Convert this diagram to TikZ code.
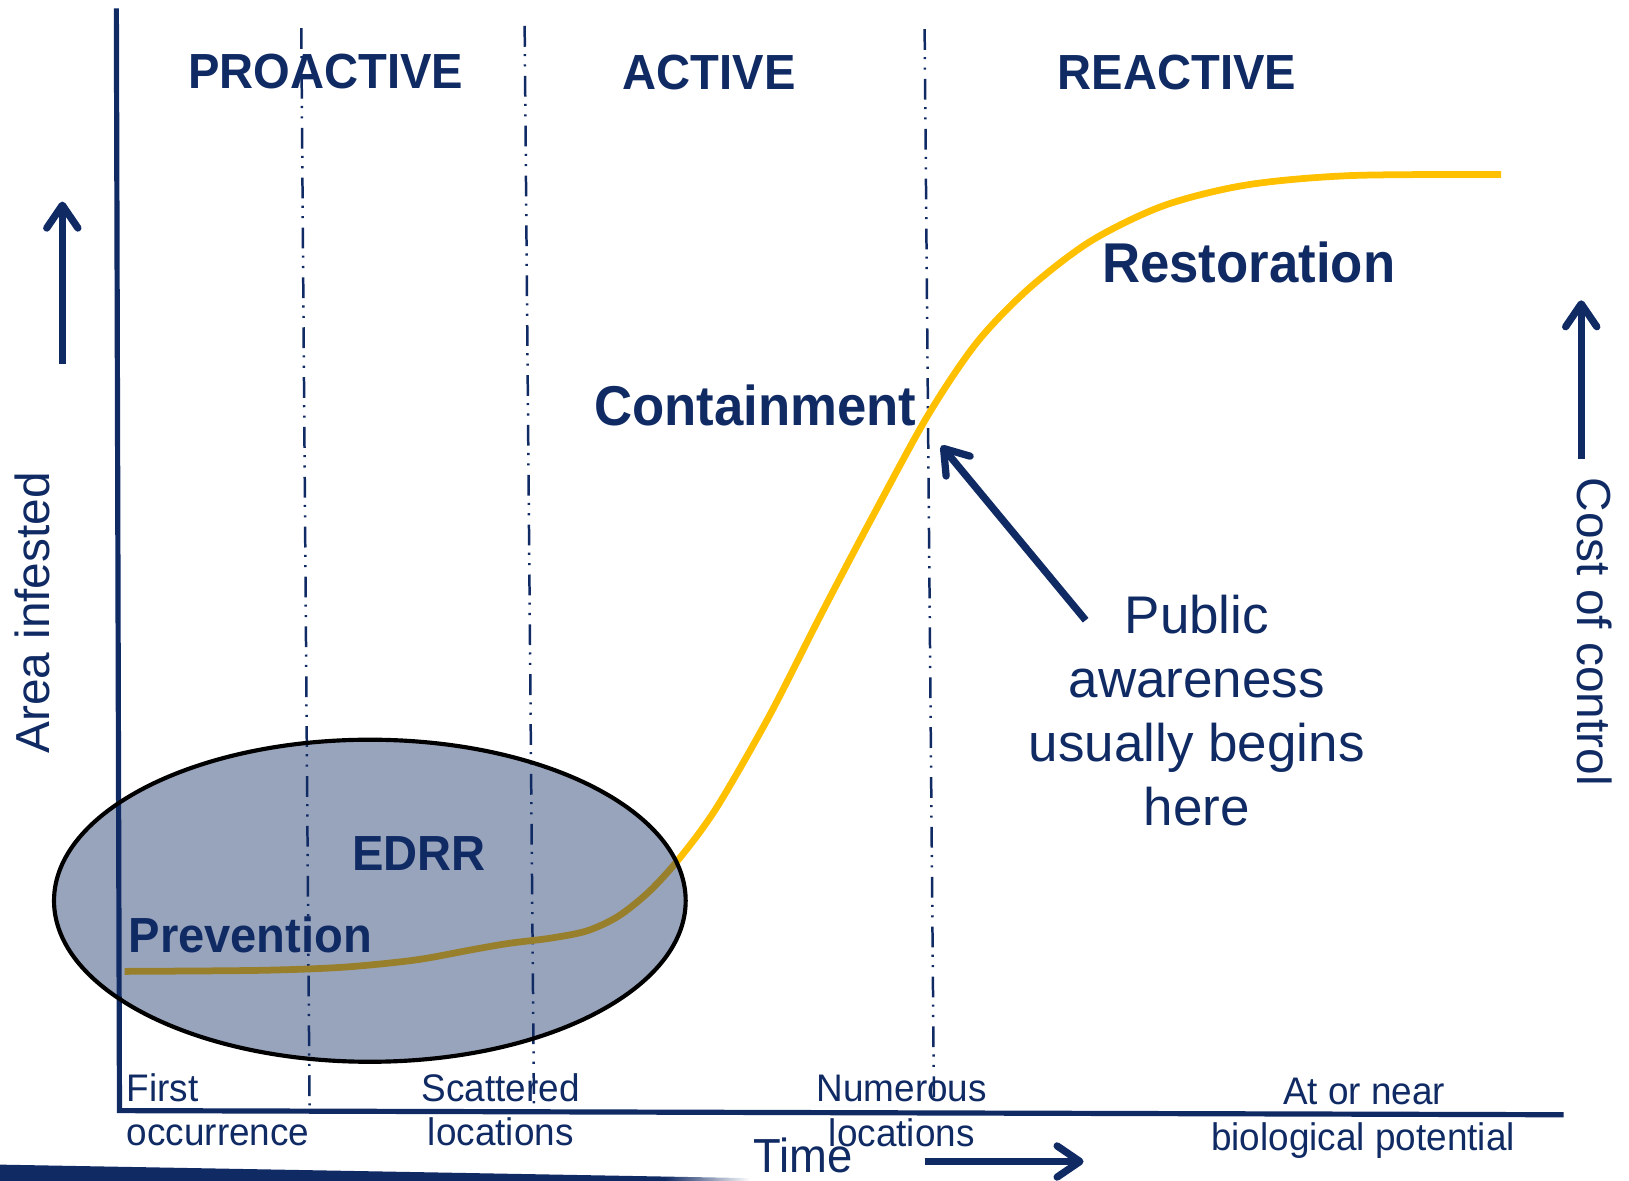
\documentclass[tikz,border=0pt]{standalone}
\usepackage{fontspec}
\setmainfont{Liberation Sans}
\usetikzlibrary{arrows.meta}
\definecolor{navy}{RGB}{16,42,100}
\definecolor{gold}{RGB}{255,192,0}
\begin{document}
\begin{tikzpicture}[x=1pt,y=-1pt,
  axisline/.style={draw=navy, line width=5pt, line join=miter},
  phase/.style={draw=navy, line width=2.4pt, dash pattern=on 20pt off 7pt on 2pt off 8pt on 2pt off 9pt},
  bigarrow/.style={draw=navy, line width=7pt, -{Straight Barb[length=22pt,width=30pt,line cap=round,line join=round]}},
  headtxt/.style={text=navy, font=\bfseries\fontsize{47.5pt}{50pt}\selectfont, xscale=0.955, inner sep=0pt, anchor=base},
  stagetxt/.style={text=navy, font=\bfseries\fontsize{54pt}{56pt}\selectfont, xscale=0.94, inner sep=0pt, anchor=base},
  ticktxt/.style={text=navy, font=\fontsize{37pt}{40pt}\selectfont, xscale=0.96, inner sep=0pt, anchor=base},
  axistxt/.style={text=navy, font=\fontsize{46pt}{48pt}\selectfont, inner sep=0pt, anchor=base},
]
\useasboundingbox (0,0) rectangle (1568,1136);

% bottom bar
\fill[navy] (0,1121) -- (640,1132.5) -- (640,1137) -- (0,1137) -- cycle;
\shade[left color=navy, right color=white] (640,1132.5) -- (722,1134) -- (722,1137) -- (640,1137) -- cycle;

% phase separators
\coordinate (d1t) at (290,27);  \coordinate (d1b) at (298,1068);
\coordinate (d2t) at (505,25);  \coordinate (d2b) at (514,1066);
\coordinate (d3t) at (890,28);  \coordinate (d3b) at (899,1062);
\draw[phase] (d1t) -- (d1b);
\draw[phase] (d2t) -- (d2b);
\draw[phase] (d3t) -- (d3b);

% axes
\coordinate (ytop) at (112,8);
\coordinate (origin) at (115,1069);
\coordinate (xend) at (1505,1073);
\draw[axisline] (ytop) -- (origin) -- (xend);

% curve
\draw[gold, line width=6.5pt] plot[smooth, tension=0.5] coordinates {
 (120,935) (250,934) (330,931) (400,924) (455,914) (490,908) (530,903) (565,896)
 (595,882) (625,858) (655,825) (690,777) (740,690) (790,592) (840,497) (893,400)
 (940,330) (990,278) (1050,232) (1120,198) (1200,178) (1300,169) (1445,168)};

% EDRR ellipse
\fill[navy, fill opacity=0.43] (356,867) ellipse [x radius=304pt, y radius=155pt];
\draw[black, line width=4pt] (356,867) ellipse [x radius=304pt, y radius=155pt];

% headings
\node[headtxt] (proactive) at (313.5,85) {PROACTIVE};
\node[headtxt] (active) at (682.5,86) {ACTIVE};
\node[headtxt] (reactive) at (1133,86) {REACTIVE};

% stage labels
\node[headtxt] (edrr) at (403.5,838) {EDRR};
\node[headtxt] (prevention) at (241,917) {Prevention};
\node[stagetxt] (containment) at (727,410) {Containment};
\node[stagetxt] (restoration) at (1202,272) {Restoration};

% public awareness
\node[text=navy, font=\fontsize{51pt}{61.5pt}\selectfont, align=center, inner sep=0pt, anchor=north] (public) at (1152,573)
 {Public\\awareness\\usually begins\\here};
\coordinate (patail) at (1045,597);
\coordinate (patip) at (906,429);
\draw[bigarrow] (patail) -- (patip);

% axis titles
\node[axistxt, rotate=90] (areainf) at (48,590) {Area infested};
\node[axistxt, rotate=-90] (cost) at (1518,608) {Cost of control};
\coordinate (la0) at (60,350); \coordinate (la1) at (60,194);
\draw[bigarrow] (la0) -- (la1);
\coordinate (ra0) at (1522,442); \coordinate (ra1) at (1522,289);
\draw[bigarrow] (ra0) -- (ra1);

% tick labels
\node[ticktxt, anchor=base west] (first) at (122,1060) {First};
\node[ticktxt, anchor=base west] (occ) at (122,1103) {occurrence};
\node[ticktxt] (scat) at (482,1060) {Scattered};
\node[ticktxt] (loc1) at (482,1103) {locations};
\node[ticktxt] (num) at (868,1060) {Numerous};
\node[ticktxt] (loc2) at (868,1104) {locations};
\node[ticktxt] (atnear) at (1313,1063.5) {At or near};
\node[ticktxt] (bio) at (1312,1107) {biological potential};

% time
\node[axistxt, xscale=0.95] (time) at (773,1129) {Time};
\coordinate (ta0) at (890,1118); \coordinate (ta1) at (1043,1118);
\draw[bigarrow] (ta0) -- (ta1);
\end{tikzpicture}
\end{document}
